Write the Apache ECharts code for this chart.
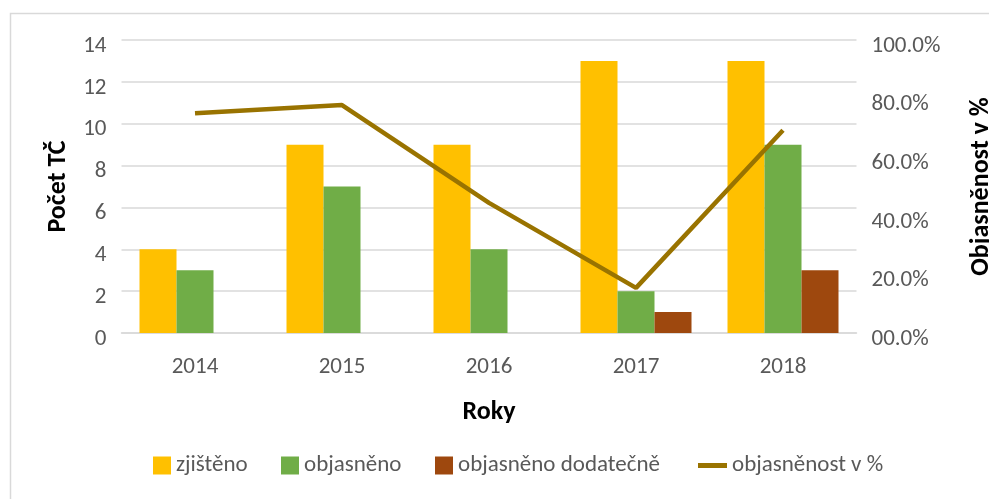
<!DOCTYPE html>
<html>
<head>
<meta charset="utf-8">
<script src="https://cdn.jsdelivr.net/npm/echarts@6/dist/echarts.min.js"></script>
<style>html,body{margin:0;padding:0;background:#fff}#c{width:989px;height:499px}</style>
</head>
<body>
<div id="c"></div>
<script>
var years = ['2014', '2015', '2016', '2017', '2018'];
var zjisteno = [4, 9, 9, 13, 13];
var objasneno = [3, 7, 4, 2, 9];
var dodatecne = [0, 0, 0, 1, 3];
var objasnenost = [75.0, 77.8, 44.4, 15.4, 69.2];
var leftTicks = ['0', '2', '4', '6', '8', '10', '12', '14'];
var rightTicks = ['00.0%', '20.0%', '40.0%', '60.0%', '80.0%', '100.0%'];

var FONT = 'Carlito, "Liberation Sans", Arial, sans-serif';
var chart = echarts.init(document.getElementById('c'), null, {renderer: 'canvas'});
var legendCommon = {
  top: 454, padding: 0, itemWidth: 18, itemHeight: 18, itemGap: 0, icon: 'rect',
  textStyle: {color: '#595959', fontSize: 23, fontFamily: FONT}, itemTextGap: 6
};
var tickLabel = {color: '#595959', fontSize: 23, fontFamily: FONT, verticalAlign: 'top', lineHeight: 12};
chart.setOption({
  animation: false,
  textStyle: {fontFamily: FONT},
  graphic: [{
    type: 'rect', shape: {x: 10.5, y: 13.5, width: 1000, height: 520},
    style: {fill: 'none', stroke: '#D9D9D9', lineWidth: 1.5}, silent: true
  }],
  grid: {left: 121.5, right: 132.5, top: 40, bottom: 166, containLabel: false, outerBoundsMode: 'none'},
  legend: [
    Object.assign({}, legendCommon, {left: 153, data: ['zjištěno']}),
    Object.assign({}, legendCommon, {left: 281, data: ['objasněno']}),
    Object.assign({}, legendCommon, {left: 435, data: ['objasněno dodatečně']}),
    Object.assign({}, legendCommon, {left: 698, itemWidth: 29, itemHeight: 5, data: ['objasněnost v %']})
  ],
  xAxis: {
    type: 'category', data: years,
    axisLine: {show: true, lineStyle: {color: '#D9D9D9', width: 1.5}},
    axisTick: {show: false},
    axisLabel: {color: '#595959', fontSize: 23, margin: 23, fontFamily: FONT},
    name: 'Roky', nameLocation: 'middle', nameGap: 66,
    nameTextStyle: {color: '#000', fontSize: 26, fontWeight: 'bold', fontFamily: FONT}
  },
  yAxis: [{
    type: 'value', min: 0, max: 14, interval: 2,
    axisLine: {show: false}, axisTick: {show: false},
    splitLine: {lineStyle: {color: '#D9D9D9', width: 1.5}},
    axisLabel: Object.assign({}, tickLabel, {margin: 15,
      formatter: function (v) { return leftTicks[Math.round(v / 2)]; }}),
    name: 'Počet TČ', nameLocation: 'middle', nameGap: 50, nameRotate: 90,
    nameTextStyle: {color: '#000', fontSize: 26, fontWeight: 'bold', fontFamily: FONT}
  }, {
    type: 'value', min: 0, max: 100, interval: 20,
    axisLine: {show: false}, axisTick: {show: false}, splitLine: {show: false},
    axisLabel: Object.assign({}, tickLabel, {margin: 15,
      formatter: function (v) { return rightTicks[Math.round(v / 20)]; }}),
    name: 'Objasněnost v %', nameLocation: 'middle', nameGap: 112, nameRotate: 90,
    nameTextStyle: {color: '#000', fontSize: 26, fontWeight: 'bold', fontFamily: FONT}
  }],
  series: [
    {name: 'zjištěno', type: 'bar', data: zjisteno, barWidth: 37, barGap: '0%', itemStyle: {color: '#FFC000'}},
    {name: 'objasněno', type: 'bar', data: objasneno, barWidth: 37, barGap: '0%', itemStyle: {color: '#70AD47'}},
    {name: 'objasněno dodatečně', type: 'bar', data: dodatecne, barWidth: 37, barGap: '0%', itemStyle: {color: '#9E480E'}},
    {name: 'objasněnost v %', type: 'line', yAxisIndex: 1, data: objasnenost, showSymbol: false, symbol: 'none',
      lineStyle: {color: '#997300', width: 4.5}, itemStyle: {color: '#997300'}, z: 5}
  ]
});
</script>
</body>
</html>
